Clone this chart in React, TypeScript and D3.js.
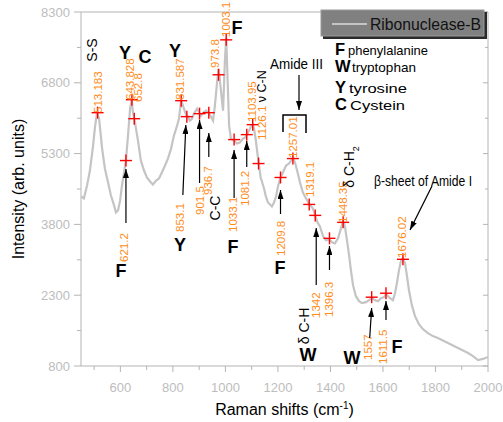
import React from 'react';
import * as d3 from 'd3';

// Raman spectrum of Ribonuclease-B
const shifts = [
  450, 461, 473, 484, 496, 503, 511, 519, 530, 541, 553, 564, 576, 583, 591, 599,
  606, 614, 621, 629, 637, 643, 648, 653, 667, 678, 690, 701, 713, 724, 736, 747,
  758, 770, 781, 793, 804, 816, 823, 829, 832, 842, 850, 857, 865, 873, 880, 892,
  899, 907, 915, 926, 937, 945, 953, 960, 968, 974, 983, 991, 998, 1003, 1006, 1014,
  1021, 1033, 1044, 1055, 1067, 1075, 1082, 1090, 1097, 1104, 1109, 1116, 1122, 1127, 1134, 1147,
  1154, 1162, 1170, 1177, 1185, 1193, 1200, 1210, 1219, 1231, 1242, 1250, 1257, 1265, 1273, 1284,
  1295, 1307, 1314, 1320, 1333, 1342, 1350, 1360, 1372, 1383, 1396, 1406, 1417, 1429, 1440, 1448,
  1455, 1463, 1471, 1478, 1486, 1497, 1509, 1520, 1535, 1547, 1557, 1570, 1581, 1592, 1604, 1612,
  1627, 1638, 1646, 1653, 1661, 1669, 1676, 1684, 1691, 1699, 1710, 1722, 1737, 1752, 1771, 1790,
  1809, 1832, 1855, 1878, 1901, 1924, 1943, 1962, 1981, 2000,
];
const intensity = [
  4392, 4350, 4625, 4941, 5470, 5850, 6167, 6040, 5427, 4984, 4688, 4413, 4202, 4054, 4096, 4308,
  4625, 4899, 5153, 5681, 6252, 6442, 6167, 6040, 5575, 5153, 4941, 4794, 4709, 4646, 4730, 4772,
  4899, 5047, 5195, 5406, 5681, 5892, 6040, 6315, 6421, 6252, 6125, 6083, 5998, 6040, 6146, 6252,
  6188, 6104, 6167, 6209, 6167, 6083, 5998, 6315, 6801, 7097, 6632, 6209, 7266, 7752, 7266, 5892,
  5618, 5575, 5512, 5533, 5618, 5639, 5702, 5787, 5871, 5913, 5829, 5575, 5300, 5089, 4800, 4561,
  4392, 4265, 4223, 4181, 4265, 4392, 4603, 4794, 4899, 5047, 5089, 5153, 5216, 5111, 4941, 4688,
  4477, 4350, 4286, 4223, 4139, 3991, 3850, 3758, 3547, 3462, 3480, 3420, 3399, 3505, 3716, 3864,
  3758, 3462, 3145, 2828, 2512, 2279, 2173, 2131, 2152, 2195, 2237, 2195, 2173, 2237, 2258, 2320,
  2237, 2195, 2342, 2554, 2828, 3040, 3082, 2976, 2723, 2406, 2089, 1857, 1687, 1582, 1497, 1434,
  1392, 1328, 1265, 1201, 1138, 1075, 1010, 927, 950, 990,
];

const peakShifts = [
  513.183, 621.2, 643.828, 652.8, 831.587, 853.1, 901.5, 936.7, 973.8, 1003, 1033.1, 1081.2,
  1103.95, 1126.1, 1209.8, 1257.01, 1319.1, 1342, 1396.3, 1448.35, 1557, 1611.5, 1676.02,
];
const peakIntensity = [
  6167, 5153, 6442, 6040, 6421, 6083, 6146, 6167, 6970, 7710, 5597, 5702,
  5913, 5089, 4794, 5195, 4223, 3991, 3505, 3843, 2258, 2342, 3061,
];
const peakLabels = [
  '513.183', '621.2', '643.828', '652.8', '831.587', '853.1', '901.5', '936.7', '973.8', '1003.1', '1033.1', '1081.2',
  '1103.95', '1126.1', '1209.8', '1257.01', '1319.1', '1342', '1396.3', '1448.35', '1557', '1611.5', '1676.02',
];

const yTicks = [800, 2300, 3800, 5300, 6800, 8300];
const yMinor = [1550, 3050, 4550, 6050, 7550];
const xTicks = [600, 800, 1000, 1200, 1400, 1600, 1800, 2000];
const xMinor = [500, 700, 900, 1100, 1300, 1500, 1700, 1900];

const residues = ['F', 'W', 'Y', 'C'];
const residueNames = ['phenylalanine', 'tryptophan', 'tyrosine', 'Cystein'];

const W = 503;
const H = 422;
const m = { left: 81, right: 15, top: 12, bottom: 56 };
const font = '"Liberation Sans", Arial, sans-serif';
const orange = '#ff8c1a';
const axisGray = '#b4b4b4';
const labelGray = '#bdbdbd';

// label placement per peak: [dx from marker x, y where rotated text starts]
const labelPos: [number, number][] = [
  [0, 113], [-2, 262], [-2, 100], [4, 102], [-1, 100], [-7, 232], [0, 215], [-1, 195],
  [-4, 68], [0, 37], [-1, 232], [-2, 206], [-1, 122], [3, 140], [0, 256], [0, 158],
  [1, 197], [1, 318], [0, 317], [0, 223], [-4, 360], [-3, 364], [-1, 258],
];

// arrows pointing at peaks: [peak index, dx0, y0, dx1, y1]
const peakArrows: [number, number, number, number, number][] = [
  [1, 0, 223, 0, 169], [5, -4, 195, -1, 125], [6, 0, 183, 0, 120], [7, 0, 157, 0, 133],
  [10, 0, 198, 0, 150], [11, 0, 167, 0, 141], [14, 0, 214, 0, 190], [17, 1, 285, 1, 228],
  [18, 0, 270, 0, 246], [20, -2, 338, 0, 308], [21, 0, 320, 0, 301],
];

// bold residue letters beside peaks: [letter, x, y]
const letters: [string, number, number][] = [
  ['Y', 125, 53], ['C', 145, 57], ['Y', 175, 51], ['F', 237, 28],
  ['F', 121, 271], ['Y', 180, 245], ['F', 233, 247], ['F', 280, 268],
  ['W', 308, 355], ['W', 352, 358], ['F', 397, 347],
];

export default function App() {
  const x = d3.scaleLinear().domain([450, 2000]).range([m.left, W - m.right]);
  const y = d3.scaleLinear().domain([800, 8300]).range([H - m.bottom, m.top]);
  const x0 = m.left;
  const x1 = W - m.right;
  const y0 = H - m.bottom;
  const y1 = m.top;

  const line = d3
    .line<number>()
    .x((_, i) => x(shifts[i]))
    .y((d) => y(d));

  const rot = (cx: number, sy: number) => `translate(${cx + 4},${sy}) rotate(-90)`;

  return (
    <svg
      width={W}
      height={H}
      style={{ position: 'absolute', left: 0, top: 0, background: '#fff' }}
      fontFamily={font}
    >
      <defs>
        <marker
          id="ah"
          viewBox="0 0 10 10"
          refX="10"
          refY="5"
          markerWidth="9"
          markerHeight="6"
          markerUnits="userSpaceOnUse"
          preserveAspectRatio="none"
          orient="auto"
        >
          <path d="M0,0 L10,5 L0,10 z" fill="#000" />
        </marker>
      </defs>

      {/* frame */}
      <line x1={x0} x2={x1} y1={y1} y2={y1} stroke={axisGray} />
      <line x1={x1} x2={x1} y1={y1} y2={y0} stroke={axisGray} />
      <line x1={x0} x2={x0} y1={y1} y2={y0} stroke={axisGray} />
      <line x1={x0} x2={x1} y1={y0} y2={y0} stroke={axisGray} />

      {/* y ticks */}
      {yTicks.map((t) => (
        <g key={'yt' + t}>
          <line x1={x0 - 7} x2={x0} y1={y(t)} y2={y(t)} stroke={axisGray} />
          <line x1={x1 - 5} x2={x1} y1={y(t)} y2={y(t)} stroke={axisGray} />
          <text x={x0 - 11} y={y(t)} dy="0.36em" textAnchor="end" fontSize={13} fill={labelGray}>
            {t}
          </text>
        </g>
      ))}
      {yMinor.map((t) => (
        <g key={'ym' + t}>
          <line x1={x0 - 4} x2={x0} y1={y(t)} y2={y(t)} stroke={axisGray} />
          <line x1={x1 - 3} x2={x1} y1={y(t)} y2={y(t)} stroke={axisGray} />
        </g>
      ))}

      {/* x ticks */}
      {xTicks.map((t) => (
        <g key={'xt' + t}>
          <line x1={x(t)} x2={x(t)} y1={y0} y2={y0 + 6} stroke={axisGray} />
          <text x={x(t)} y={y0 + 26} textAnchor="middle" fontSize={13} fill={labelGray}>
            {t}
          </text>
        </g>
      ))}
      {xMinor.map((t) => (
        <line key={'xm' + t} x1={x(t)} x2={x(t)} y1={y0} y2={y0 + 4} stroke={axisGray} />
      ))}

      {/* axis titles */}
      <text transform={`translate(24,${(y0 + y1) / 2}) rotate(-90)`} textAnchor="middle" fontSize={16}>
        Intensity (arb. units)
      </text>
      <text x={(x0 + x1) / 2} y={415} textAnchor="middle" fontSize={16}>
        Raman shifts (cm
        <tspan dy={-6} fontSize={10}>-1</tspan>
        <tspan dy={6}>)</tspan>
      </text>

      {/* spectrum */}
      <path d={line(intensity) || ''} fill="none" stroke="#c4c4c4" strokeWidth={2.2} />

      {/* peak markers */}
      {peakShifts.map((p, i) => {
        const px = x(p);
        const py = y(peakIntensity[i]);
        return (
          <g key={'pk' + i} stroke="#ff0000" strokeWidth={1.4}>
            <line x1={px - 6} x2={px + 6} y1={py} y2={py} />
            <line x1={px} x2={px} y1={py - 6} y2={py + 6} />
          </g>
        );
      })}

      {/* peak labels */}
      {peakLabels.map((l, i) => (
        <text
          key={'pl' + i}
          transform={rot(x(peakShifts[i]) + labelPos[i][0], labelPos[i][1])}
          fontSize={11.5}
          fill={orange}
        >
          {l}
          {i === 13 && (
            <tspan fill="#000" fontSize={12.5}>
              {' \u03bd C-N'}
            </tspan>
          )}
        </text>
      ))}

      {/* arrows */}
      {peakArrows.map(([k, dx0, ay0, dx1, ay1]) => (
        <line
          key={'ar' + k}
          x1={x(peakShifts[k]) + dx0}
          y1={ay0}
          x2={x(peakShifts[k]) + dx1}
          y2={ay1}
          stroke="#000"
          strokeWidth={1.2}
          markerEnd="url(#ah)"
        />
      ))}
      <line x1={299} y1={75} x2={299} y2={110} stroke="#000" strokeWidth={1.2} markerEnd="url(#ah)" />
      <line x1={432} y1={186} x2={410} y2={230} stroke="#000" strokeWidth={1.2} markerEnd="url(#ah)" />
      <path d="M283,132 V115 H306 V133" fill="none" stroke="#000" strokeWidth={1.5} />

      {/* residue letters */}
      {letters.map(([t, lx, ly], i) => (
        <text
          key={'lt' + i}
          x={lx}
          y={ly}
          dy="0.36em"
          textAnchor="middle"
          fontSize={18}
          fontWeight="bold"
        >
          {t}
        </text>
      ))}

      {/* band names */}
      <text transform="translate(97,50) rotate(-90)" textAnchor="middle" fontSize={14}>S-S</text>
      <text transform="translate(220,208) rotate(-90)" textAnchor="middle" fontSize={14}>C-C</text>
      <text transform="translate(309,326) rotate(-90)" textAnchor="middle" fontSize={14}>
        {'\u03b4 C-H'}
      </text>
      <text transform="translate(354,167) rotate(-90)" textAnchor="middle" fontSize={14}>
        {'\u03b4 C-H'}
        <tspan dy={5} fontSize={9}>2</tspan>
      </text>
      <text x={270} y={69} fontSize={14} textLength={53} lengthAdjust="spacingAndGlyphs">
        Amide III
      </text>
      <text x={374} y={186} fontSize={14} textLength={98} lengthAdjust="spacingAndGlyphs">
        {'\u03b2-sheet of Amide I'}
      </text>

      {/* legend */}
      <rect x={323} y={12} width={164} height={27} fill="#2a2a2a" />
      <rect x={321} y={10} width={163} height={26} fill="#808080" stroke="#9a9a9a" />
      <line x1={332} x2={367} y1={24} y2={24} stroke="#c4c4c4" strokeWidth={2} />
      <text x={370} y={30} fontSize={17} fill="#111" textLength={111} lengthAdjust="spacingAndGlyphs">
        Ribonuclease-B
      </text>

      {/* residue key */}
      {residues.map((r, i) => {
        const by = [55, 72, 93, 110][i];
        const nx = [348, 352, 349, 350][i];
        const nw = [80, 64, 58, 55][i];
        return (
          <g key={'rk' + r}>
            <text x={335} y={by} fontSize={16.5} fontWeight="bold">
              {r}
            </text>
            <text x={nx} y={by} fontSize={13.5} textLength={nw} lengthAdjust="spacingAndGlyphs">
              {residueNames[i]}
            </text>
          </g>
        );
      })}
    </svg>
  );
}
